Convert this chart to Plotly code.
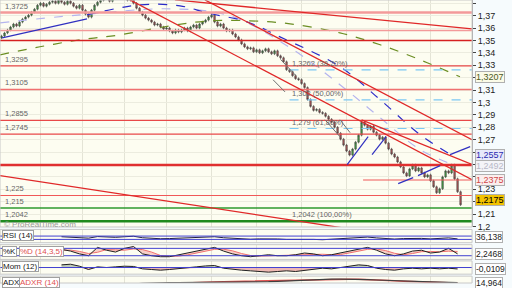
import plotly.graph_objects as go

# ---------------- data ----------------
closes = [
    1.3536, 1.3560, 1.3584, 1.3608, 1.3632, 1.3616, 1.3648, 1.3672, 1.3688, 1.3704,
    1.3728, 1.3752, 1.3784, 1.3800, 1.3776, 1.3792, 1.3808, 1.3816, 1.3800, 1.3824,
    1.3808, 1.3792, 1.3816, 1.3800, 1.3776, 1.3760, 1.3784, 1.3744, 1.3712, 1.3688,
    1.3744, 1.3784, 1.3808, 1.3824, 1.3840, 1.3848, 1.3816, 1.3840, 1.3856, 1.3864,
    1.3872, 1.3848, 1.3824, 1.3840, 1.3800, 1.3760, 1.3728, 1.3704, 1.3680, 1.3664,
    1.3648, 1.3624, 1.3632, 1.3608, 1.3592, 1.3600, 1.3576, 1.3560, 1.3584, 1.3568,
    1.3584, 1.3600, 1.3576, 1.3608, 1.3624, 1.3600, 1.3632, 1.3648, 1.3664, 1.3688,
    1.3704, 1.3648, 1.3616, 1.3632, 1.3600, 1.3576, 1.3584, 1.3552, 1.3528, 1.3504,
    1.3472, 1.3448, 1.3432, 1.3440, 1.3408, 1.3424, 1.3400, 1.3416, 1.3432, 1.3408,
    1.3392, 1.3416, 1.3376, 1.3360, 1.3328, 1.3264, 1.3248, 1.3216, 1.3192, 1.3184,
    1.3152, 1.3120, 1.3024, 1.2968, 1.2936, 1.2944, 1.2920, 1.2912, 1.2888, 1.2864,
    1.2840, 1.2800, 1.2752, 1.2704, 1.2656, 1.2608, 1.2576, 1.2624, 1.2680, 1.2736,
    1.2840, 1.2816, 1.2784, 1.2808, 1.2760, 1.2736, 1.2704, 1.2720, 1.2672, 1.2624,
    1.2584, 1.2560, 1.2520, 1.2480, 1.2432, 1.2408, 1.2464, 1.2496, 1.2448, 1.2472,
    1.2432, 1.2400, 1.2416, 1.2368, 1.2320, 1.2272, 1.2304, 1.2400, 1.2448, 1.2432,
    1.2496, 1.2384, 1.2280, 1.2175,
]
first_open = 1.3520
wick = 0.0010

# horizontal support / resistance levels
levels = [1.3725, 1.3581, 1.3500, 1.3295, 1.3105, 1.2855, 1.2745, 1.2495, 1.2250, 1.2150, 1.2042]
level_colors = ["#f39a9a", "#f39a9a", "#d62020", "#e84848", "#f07070", "#e84848",
                "#e84848", "#e03030", "#f05858", "#2e9a2e", "#1f8a1f"]
level_widths = [2.5, 1.5, 1.5, 1.2, 1.5, 1.2, 1.2, 2.5, 1.2, 1.5, 2.5]
left_labels = [(1.3725, "1,3725"), (1.3295, "1,3295"), (1.3105, "1,3105"), (1.2855, "1,2855"),
               (1.2745, "1,2745"), (1.2250, "1,225"), (1.2150, "1,215"), (1.2042, "1,2042")]

# fibonacci retracement levels
fib_prices = [1.3262, 1.3020, 1.2790]
fib_texts = ["1,3262 (38,20%)", "1,302 (50,00%)", "1,279 (61,80%)"]
fib_start = 96
fib100_price = 1.2042
fib100_text = "1,2042 (100,00%)"

# moving-average style curves (bar index, price)
green_x = [-0.5, 12.8, 26.2, 39.5, 56.2, 69.5, 82.8, 96.2, 112.8, 126.2, 139.5, 152.8]
green_y = [1.3384, 1.3449, 1.3505, 1.3545, 1.3618, 1.3658, 1.3658, 1.3634, 1.3561, 1.3465, 1.3344, 1.3207]
blue_x = [28.5, 46.2, 59.5, 68.5, 81.8, 92.8, 112.8, 126.2, 139.5, 151.2]
blue_y = [1.3706, 1.3787, 1.3779, 1.3722, 1.3650, 1.3529, 1.3288, 1.3022, 1.2740, 1.2557]
lav_x = [-0.5, 26.2, 56.2, 76.2, 96.2, 112.8, 126.2, 139.5, 151.2]
lav_y = [1.3642, 1.3706, 1.3755, 1.3698, 1.3441, 1.3143, 1.2877, 1.2620, 1.2492]

# trend lines: (x0, p0, x1, p1)
red_trends = [
    (57.8, 1.3827, 156.8, 1.3594),
    (67.8, 1.3827, 156.8, 1.2700),
    (42.8, 1.3827, 156.8, 1.2378),
    (-0.5, 1.2410, 126.2, 1.1943),
    (120.0, 1.2860, 156.8, 1.2500),
]
blue_trends = [
    (0.2, 1.3521, 28.5, 1.3674),
    (115.2, 1.2499, 122.2, 1.2724),
    (123.5, 1.2579, 128.2, 1.2724),
    (132.2, 1.2346, 137.2, 1.2394),
    (138.8, 1.2410, 146.2, 1.2491),
    (149.5, 1.2579, 156.2, 1.2644),
]
gray_trends = [
    (93.0, 1.3347, 98.0, 1.3219),
    (90.5, 1.3183, 94.5, 1.3085),
    (107.8, 1.2861, 112.8, 1.2724),
    (112.8, 1.2861, 116.2, 1.2756),
]
partial_level = (120.5, 1.2375)

# indicators (sampled every 3 bars from bar 20)
ind_x = list(range(20, 154, 3))
rsi = [62, 58, 52, 45, 64, 58, 55, 62, 68, 50, 42, 38, 40, 45, 48, 50, 55, 62, 50, 42,
       35, 32, 36, 40, 35, 30, 32, 28, 30, 26, 32, 38, 45, 52, 58, 48, 38, 34, 40, 44,
       42, 36, 38, 48, 36]
stoch_k = [72, 58, 35, 20, 88, 65, 50, 80, 95, 35, 20, 12, 12, 28, 42, 58, 72, 88, 58, 35,
           20, 12, 20, 28, 20, 20, 28, 42, 35, 20, 28, 42, 58, 72, 88, 65, 35, 20, 35, 58,
           65, 42, 50, 80, 35]
stoch_d = [65, 66, 55, 38, 48, 70, 68, 65, 75, 70, 50, 22, 15, 17, 27, 43, 57, 72, 73, 60,
           38, 22, 17, 20, 23, 22, 23, 30, 35, 32, 28, 30, 43, 57, 72, 75, 62, 40, 28, 38,
           53, 55, 52, 57, 55]
mom = [0.020, 0.025, 0.010, -0.015, 0.005, 0.000, 0.005, 0.010, 0.008, -0.010,
       -0.015, -0.020, -0.015, -0.010, -0.005, 0.005, 0.012, 0.015, -0.005, -0.015,
       -0.020, -0.025, -0.030, -0.035, -0.030, -0.025, -0.030, -0.020, -0.010, -0.005,
       -0.010, 0.000, 0.010, 0.020, 0.015, -0.005, -0.015, -0.020, -0.010, -0.005,
       -0.010, -0.005, -0.010, -0.005, -0.0109]
adx = [10, 10, 10, 10, 10, 10, 10, 11, 12, 13, 14, 14.5, 15, 15, 15.5, 15.5, 16, 16, 16, 16,
       16, 16, 16.5, 17, 18, 19, 20, 21, 22, 22.5, 23, 23, 23, 22.5, 22, 21, 20, 19, 18, 17.5,
       17, 16.5, 16, 15.5, 15]
adxr = [9, 9, 9, 9, 9, 9, 9, 9, 9, 10, 11, 12, 13, 14, 15, 15, 16, 16.5, 17, 17.5,
        18, 18, 18.5, 19, 19.5, 20, 21, 22, 22.5, 23, 23.5, 23.5, 23, 22.5, 22, 21, 20, 19, 18, 17,
        16, 15.5, 15, 14.5, 14]

vgrid = [13, 27, 41, 55, 70, 85, 100, 115, 129, 143]
main_ticks = [1.20, 1.21, 1.22, 1.23, 1.24, 1.25, 1.26, 1.27, 1.28, 1.29, 1.30, 1.31,
              1.32, 1.33, 1.34, 1.35, 1.36, 1.37, 1.38]
main_tick_text = ["1,2", "1,21", "", "1,23", "", "", "", "1,27", "1,28", "1,29",
                  "1,3", "1,31", "", "1,33", "1,34", "1,35", "1,36", "1,37", "1,38"]

# right-hand value boxes: (pixel row, text, text colour, background)
value_boxes = [
    (78, "1,3207", "#4b5a1e", "#fbfbe8"),
    (158, "1,2557", "#2a2ab0", "#e8e8fa"),
    (169, "1,2492", "#b8b8c8", "#f4f4f8"),
    (183, "1,2375", "#d04848", "#fbeeee"),
    (204, "1,2175", "#000000", "#f2c200"),
]

# ---------------- figure ----------------
opens = [first_open] + closes[:-1]
highs = [max(o, c) + wick for o, c in zip(opens, closes)]
lows = [min(o, c) - wick for o, c in zip(opens, closes)]
bars = list(range(len(closes)))

H = 288.0
def pyf(px):
    return 1 - px / H

XDOM = [0, 0.922]
fig = go.Figure()

fig.add_trace(go.Candlestick(
    x=bars, open=opens, high=highs, low=lows, close=closes,
    increasing=dict(line=dict(color="#3c3c3c", width=0.6), fillcolor="#44a844"),
    decreasing=dict(line=dict(color="#3c3c3c", width=0.6), fillcolor="#b85858"),
    whiskerwidth=0, xaxis="x", yaxis="y", hoverinfo="skip"))

fig.add_trace(go.Scatter(x=green_x, y=green_y, mode="lines", line=dict(color="#6b8e23", width=1.2, dash="dash", shape="spline"), yaxis="y"))
fig.add_trace(go.Scatter(x=lav_x, y=lav_y, mode="lines", line=dict(color="#b4b4ee", width=1.2, dash="dash", shape="spline"), yaxis="y"))
fig.add_trace(go.Scatter(x=blue_x, y=blue_y, mode="lines", line=dict(color="#2a2ac8", width=1.2, dash="dash", shape="spline"), yaxis="y"))

# RSI
fig.add_trace(go.Scatter(x=ind_x, y=rsi, mode="lines", line=dict(color="#202040", width=1), yaxis="y2"))
# Stochastic
fig.add_trace(go.Scatter(x=ind_x, y=stoch_d, mode="lines", line=dict(color="#f07070", width=1), yaxis="y3"))
fig.add_trace(go.Scatter(x=ind_x, y=stoch_k, mode="lines", line=dict(color="#202020", width=1),
                         fill="tonexty", fillcolor="rgba(240,150,150,0.45)", yaxis="y3"))
# Momentum
mom_pos = [max(v, 0) for v in mom]
mom_neg = [min(v, 0) for v in mom]
fig.add_trace(go.Scatter(x=ind_x, y=mom_pos, mode="lines", line=dict(width=0), fill="tozeroy", fillcolor="rgba(150,170,150,0.6)", yaxis="y4"))
fig.add_trace(go.Scatter(x=ind_x, y=mom_neg, mode="lines", line=dict(width=0), fill="tozeroy", fillcolor="rgba(230,140,140,0.6)", yaxis="y4"))
fig.add_trace(go.Scatter(x=ind_x, y=mom, mode="lines", line=dict(color="#202020", width=1), yaxis="y4"))
# ADX
fig.add_trace(go.Scatter(x=ind_x, y=adxr, mode="lines", line=dict(color="#e05050", width=1.5), yaxis="y5"))
fig.add_trace(go.Scatter(x=ind_x, y=adx, mode="lines", line=dict(color="#404040", width=1.2), yaxis="y5"))

shapes = []
for p, c, w in zip(levels, level_colors, level_widths):
    shapes.append(dict(type="line", xref="x domain", x0=0, x1=1, yref="y", y0=p, y1=p, line=dict(color=c, width=w)))
shapes.append(dict(type="line", xref="x", x0=partial_level[0], x1=156.83, yref="y", y0=partial_level[1], y1=partial_level[1], line=dict(color="#f05858", width=1.2)))
for p in fib_prices:
    shapes.append(dict(type="line", xref="x", x0=fib_start, x1=156.83, yref="y", y0=p, y1=p, line=dict(color="#7cc8f4", width=1.2, dash="dash")))
for x0, p0, x1, p1 in red_trends:
    shapes.append(dict(type="line", xref="x", x0=x0, x1=x1, yref="y", y0=p0, y1=p1, line=dict(color="#e02828", width=1.3)))
for x0, p0, x1, p1 in blue_trends:
    shapes.append(dict(type="line", xref="x", x0=x0, x1=x1, yref="y", y0=p0, y1=p1, line=dict(color="#3030c0", width=1.2)))
for x0, p0, x1, p1 in gray_trends:
    shapes.append(dict(type="line", xref="x", x0=x0, x1=x1, yref="y", y0=p0, y1=p1, line=dict(color="#707070", width=1)))
# indicator reference lines
for ax, vals in (("y2", [70, 30]), ("y3", [80, 20]), ("y4", [0])):
    for v in vals:
        shapes.append(dict(type="line", xref="x domain", x0=0, x1=1, yref=ax, y0=v, y1=v, line=dict(color="#4040d0", width=1)))
for ax in ("y", "y2", "y3", "y4", "y5"):
    shapes.append(dict(type="rect", xref="x domain", x0=0, x1=1, yref=ax + " domain", y0=0, y1=1, line=dict(color="#c8c8c8", width=1)))

annotations = []
for p, t in left_labels:
    annotations.append(dict(xref="x domain", x=0.006, yref="y", y=p, yanchor="bottom", xanchor="left",
                            text=t, showarrow=False, font=dict(size=7.5, color="#666666", family="Liberation Sans")))
for p, t in zip(fib_prices, fib_texts):
    annotations.append(dict(xref="x", x=fib_start, yref="y", y=p, yanchor="bottom", xanchor="left",
                            text=t, showarrow=False, font=dict(size=7.5, color="#666666", family="Liberation Sans")))
annotations.append(dict(xref="x", x=fib_start, yref="y", y=fib100_price, yanchor="bottom", xanchor="left",
                        text=fib100_text, showarrow=False, font=dict(size=7.5, color="#666666", family="Liberation Sans")))
annotations.append(dict(xref="paper", x=0.004, yref="paper", y=pyf(228.5), xanchor="left", yanchor="middle",
                        text="© ProRealTime.com", showarrow=False, font=dict(size=8, color="#9a9a9a", family="Liberation Sans")))
for ypx, t, tc, bg in value_boxes:
    annotations.append(dict(xref="paper", x=0.928, yref="paper", y=pyf(ypx), xanchor="left", yanchor="middle",
                            text=t, showarrow=False, bgcolor=bg, bordercolor="#b0b0b0", borderwidth=1, borderpad=0,
                            font=dict(size=9, color=tc, family="Liberation Sans")))
# panel labels
def panel_label(x, ypx, text, color):
    return dict(xref="paper", x=x, yref="paper", y=pyf(ypx), xanchor="left", yanchor="middle", text=text,
                showarrow=False, bgcolor="#ffffff", bordercolor="#a0a0a0", borderwidth=1, borderpad=0,
                font=dict(size=8, color=color, family="Liberation Sans"))
annotations += [
    panel_label(0.003, 240, "RSI (14)", "#202020"),
    panel_label(0.003, 255.5, "%K", "#202020"),
    panel_label(0.037, 255.5, "%D (14,3,5)", "#e05050"),
    panel_label(0.003, 271.5, "Mom (12)", "#202020"),
    panel_label(0.003, 287, "ADX", "#202020"),
    panel_label(0.037, 287, "ADXR (14)", "#e05050"),
]
for ypx, t in ((241.5, "36,138"), (258.5, "2,2468"), (273.5, "-0,0109"), (288, "14,964")):
    annotations.append(dict(xref="paper", x=0.928, yref="paper", y=pyf(ypx), xanchor="left", yanchor="middle",
                            text=t, showarrow=False, bgcolor="#ffffff", bordercolor="#b0b0b0", borderwidth=1, borderpad=0,
                            font=dict(size=8.5, color="#202020", family="Liberation Sans")))

sub_axis = dict(side="right", anchor="x", showticklabels=False, showgrid=False, zeroline=False, ticks="", fixedrange=True)
fig.update_layout(
    width=512, height=288, margin=dict(l=0, r=0, t=0, b=0),
    paper_bgcolor="#f6fbfd", plot_bgcolor="#fdfdf1",
    showlegend=False, hovermode=False,
    font=dict(family="Liberation Sans", size=9, color="#222222"),
    xaxis=dict(domain=XDOM, range=[-0.5, 156.83], rangeslider=dict(visible=False), showticklabels=False,
               tickvals=vgrid, showgrid=True, gridcolor="#e4e4d6", gridwidth=1, zeroline=False, ticks="",
               anchor="y"),
    yaxis=dict(domain=[pyf(231), 1], range=[1.1996, 1.3826], side="right", anchor="x",
               tickvals=main_ticks, ticktext=main_tick_text, showgrid=True, gridcolor="#ececdf",
               ticks="outside", ticklen=3, tickcolor="#444444", tickfont=dict(size=9, color="#222222"),
               zeroline=False, showline=True, linecolor="#9a9a9a"),
    yaxis2=dict(domain=[pyf(247), pyf(233.5)], range=[-10, 150], **sub_axis),
    yaxis3=dict(domain=[pyf(264), pyf(249)], range=[-10, 110], **sub_axis),
    yaxis4=dict(domain=[pyf(279), pyf(265.5)], range=[-0.05, 0.05], **sub_axis),
    yaxis5=dict(domain=[0, pyf(281)], range=[14, 30], **sub_axis),
    shapes=shapes, annotations=annotations,
)
fig.write_html("out.html")
